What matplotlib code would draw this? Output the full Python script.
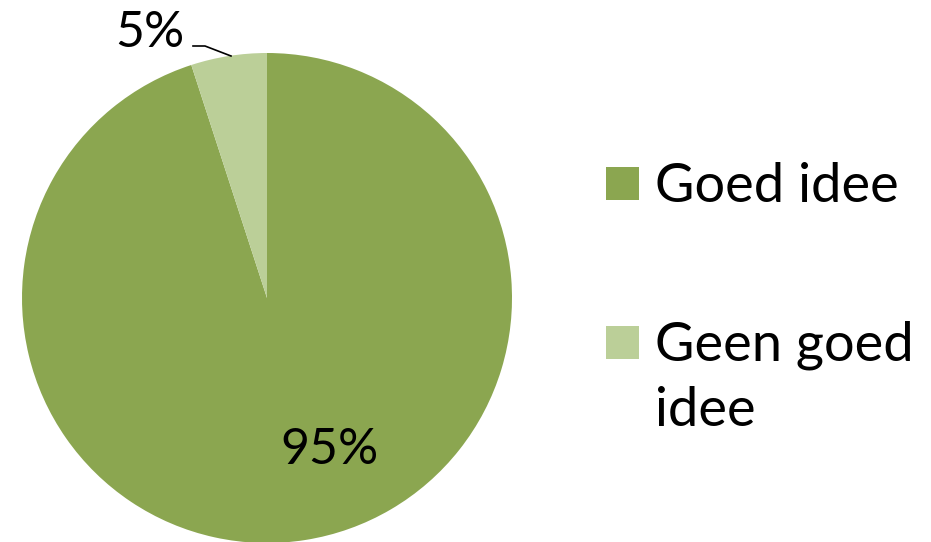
import matplotlib
matplotlib.use("Agg")
import matplotlib.pyplot as plt
from matplotlib.patches import Rectangle

categories = ["Goed idee", "Geen goed\nidee"]
values = [95, 5]
labels = ["95%", "5%"]
colors = ["#8BA650", "#BBCF98"]

plt.rcParams['font.family'] = ['Lato', 'DejaVu Sans']

W, H = 931, 542
fig = plt.figure(figsize=(W/100, H/100), dpi=100)
cx, cy, r = 267, 298, 245
ax = fig.add_axes([(cx - r)/W, (H - cy - r)/H, 2*r/W, 2*r/H])
wedges, _ = ax.pie(values, colors=colors, startangle=90, counterclock=False,
                   radius=1, center=(0, 0), wedgeprops=dict(linewidth=0))
ax.set_xlim(-1, 1)
ax.set_ylim(-1, 1)
ax.set_aspect('equal')
ax.axis('off')

# labels
ax.text(0.257, -0.62, labels[0], fontsize=36, ha='center', va='center')
ax.text(-0.478, 1.082, labels[1], fontsize=36, ha='center', va='center', clip_on=False)
# leader line for 5%
ax.plot([(193-cx)/r, (205-cx)/r, (231-cx)/r], [(cy-46)/r, (cy-46)/r, (cy-56)/r],
        color='black', lw=1.2, clip_on=False)

# legend (manual, pixel layout)
sq = 33
sq_x = 606
text_x = 655
sq_tops = [167, 326]
line_gap = 65
for i, (cat, col) in enumerate(zip(categories, colors)):
    top = sq_tops[i]
    fig.patches.append(Rectangle((sq_x/W, 1 - (top + sq)/H), sq/W, sq/H,
                                 transform=fig.transFigure, facecolor=col,
                                 edgecolor='none'))
    base = top + 35
    for j, line in enumerate(cat.split("\n")):
        fig.text(text_x/W, 1 - (base + j*line_gap)/H, line, fontsize=39,
                 ha='left', va='baseline')

fig.savefig("out.png", dpi=100)
